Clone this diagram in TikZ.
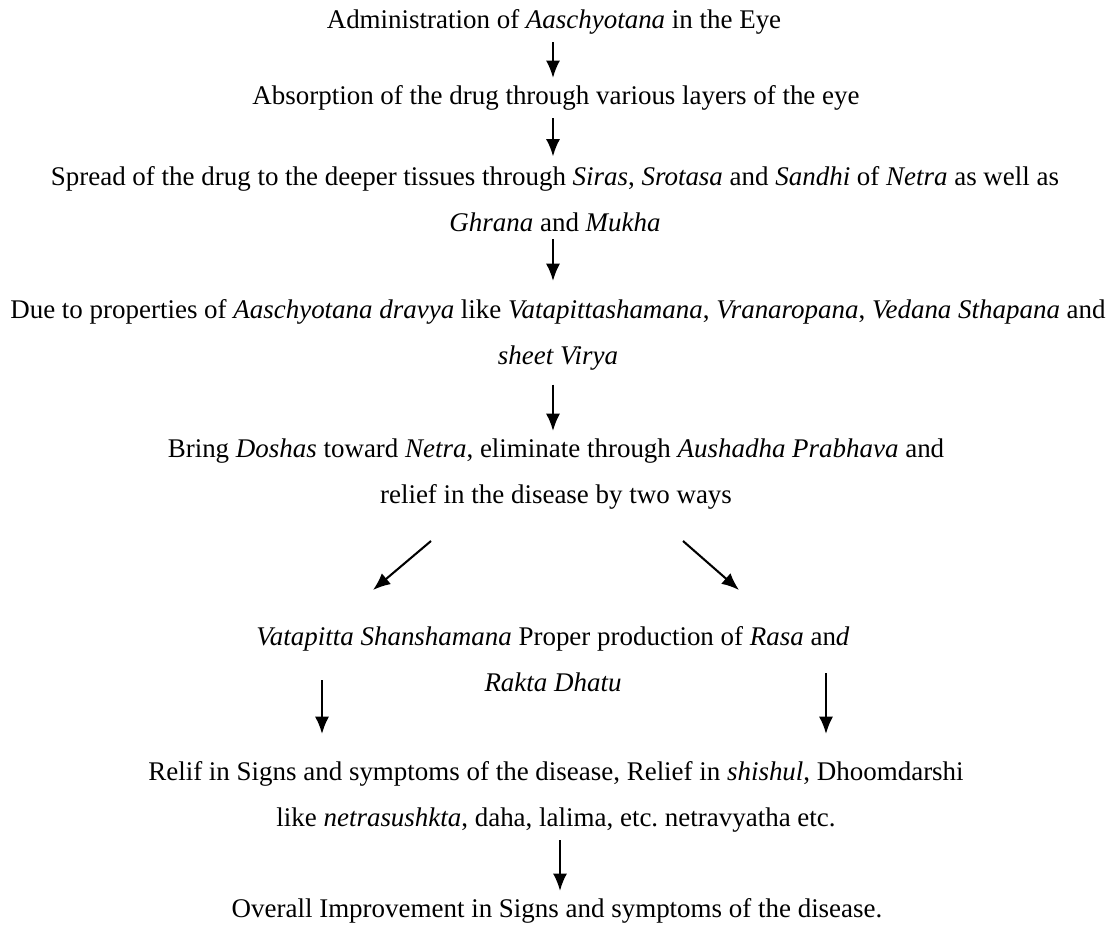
\documentclass[tikz,border=0pt]{standalone}
\usepackage{fontspec}
\setmainfont{Liberation Serif}
\usetikzlibrary{arrows.meta}
\tikzset{txt/.style={align=center,font=\fontsize{12.4}{21.2}\selectfont\frenchspacing},
  arr/.style={-{Latex[length=8pt,width=6.5pt]},line width=0.95pt}}
\begin{document}
\begin{tikzpicture}[x=0.46pt,y=-0.46pt]
        \useasboundingbox (0,0) rectangle (1113,927);
        \node[txt] (A) at (554,22) {Administration of \textit{Aaschyotana} in the Eye};
        \node[txt] (B) at (556,98) {Absorption of the drug through various layers of the eye};
        \node[txt] (C) at (555,199) {Spread of the drug to the deeper tissues through \textit{Siras}, \textit{Srotasa} and \textit{Sandhi} of \textit{Netra} as well as\\ \textit{Ghrana} and \textit{Mukha}};
        \node[txt] (D) at (558,335) {Due to properties of \textit{Aaschyotana dravya} like \textit{Vatapittashamana}, \textit{Vranaropana}, \textit{Vedana Sthapana} and\\ \textit{sheet Virya}};
        \node[txt] (E) at (556,474) {Bring \textit{Doshas} toward \textit{Netra}, eliminate through \textit{Aushadha Prabhava} and\\ relief in the disease by two ways};
        \node[txt] (F) at (553,659) {\textit{Vatapitta Shanshamana} Proper production of \textit{Rasa} an\textit{d}\\ \textit{Rakta Dhatu}};
        \node[txt] (G) at (556,797) {Relif in Signs and symptoms of the disease, Relief in \textit{shishul}, Dhoomdarshi\\ like \textit{netrasushkta}, daha, lalima, etc. netravyatha etc.};
        \node[txt] (H) at (557,911) {Overall Improvement in Signs and symptoms of the disease.};
        % free ends of the split arrows
        \coordinate (L1) at (431,541);
        \coordinate (L2) at (373,590);
        \coordinate (R1) at (683,541);
        \coordinate (R2) at (739,590);
        \coordinate (P1) at (322,680);
        \coordinate (P2) at (322,734);
        \coordinate (Q1) at (826,673);
        \coordinate (Q2) at (826,734);
        \draw[arr] (A.south -| 553,0) -- (B.north -| 553,0);
        \draw[arr,shorten >=1pt] (B.south -| 553,0) -- (C.north -| 553,0);
        \draw[arr,shorten >=5pt] (C.south -| 553,0) -- (D.north -| 553,0);
        \draw[arr,shorten <=3pt] (D.south -| 553,0) -- (E.north -| 553,0);
        \draw[arr] (L1) -- (L2);
        \draw[arr] (R1) -- (R2);
        \draw[arr] (P1) -- (P2);
        \draw[arr] (Q1) -- (Q2);
        \draw[arr] (G.south -| 560,0) -- (H.north -| 560,0);
    \end{tikzpicture}
\end{document}
